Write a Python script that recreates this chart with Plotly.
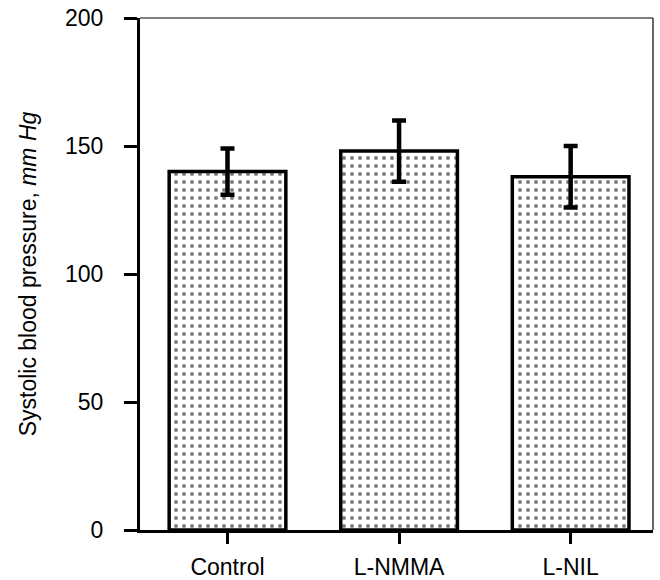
import plotly.graph_objects as go

categories = ["Control", "L-NMMA", "L-NIL"]
means = [140, 148, 138]
errors = [9, 12, 12]
y_ticks = [0, 50, 100, 150, 200]

FONT = "Liberation Sans, Arial, Helvetica, sans-serif"

fig = go.Figure()
fig.add_trace(go.Bar(
    x=list(range(len(categories))),
    y=means,
    width=0.68,
    marker=dict(
        color="white",
        line=dict(color="black", width=3.5),
        pattern=dict(shape=".", fgcolor="black", bgcolor="white", size=8, solidity=0.2),
    ),
    error_y=dict(type="data", array=errors, visible=True, color="black", thickness=4.5, width=7),
    showlegend=False,
))

fig.update_layout(
    width=660, height=580,
    margin=dict(l=140, r=7, t=18, b=50),
    paper_bgcolor="white", plot_bgcolor="white",
    font=dict(family=FONT, size=23, color="black"),
    xaxis=dict(
        range=[-0.51, 2.48],
        tickmode="array", tickvals=list(range(len(categories))), ticktext=categories,
        showline=True, linecolor="black", linewidth=3,
        ticks="outside", ticklen=11, tickwidth=3, tickcolor="black",
        ticklabelstandoff=3,
        showgrid=False, zeroline=False, automargin=False,
    ),
    yaxis=dict(
        range=[0, 200],
        tickmode="array", tickvals=y_ticks,
        showline=True, linecolor="black", linewidth=3,
        ticks="outside", ticklen=13, tickwidth=3, tickcolor="black",
        ticklabelstandoff=16,
        showgrid=False, zeroline=False, automargin=False,
        title=dict(text="Systolic blood pressure, <i>mm Hg</i>", font=dict(size=23), standoff=22),
    ),
    shapes=[
        dict(type="line", xref="paper", yref="paper", x0=0, x1=1, y0=1, y1=1,
             line=dict(color="#555", width=1.5)),
        dict(type="line", xref="paper", yref="paper", x0=1, x1=1, y0=0, y1=1,
             line=dict(color="#333", width=1.5)),
    ],
)

fig.write_html("out.html")
